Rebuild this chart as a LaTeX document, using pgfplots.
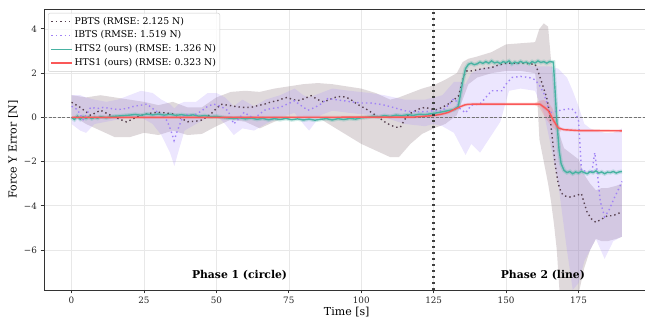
\documentclass[border=0pt]{standalone}
\usepackage{fontspec}
\setmainfont{DejaVu Serif}
\usepackage{pgfplots}
\pgfplotsset{compat=1.18}
\usepackage{pgfplotstable}
\usepgfplotslibrary{fillbetween}

\definecolor{pbts}{RGB}{88,66,80}
\definecolor{pbtsband}{RGB}{140,118,126}
\definecolor{ibts}{RGB}{160,130,245}
\definecolor{ibtsband}{RGB}{167,139,250}
\definecolor{hts2}{RGB}{72,178,162}
\definecolor{hts1}{RGB}{250,88,88}

\pgfplotstableread{
t m
0 0.68
3 0.45
6.6 0.09
10 0.32
13.5 0.09
16 -0.05
19 -0.21
21.5 -0.05
24 0.09
27 0.18
29.7 0.23
32.5 0.2
35.5 0.14
38 -0.05
40 -0.2
42.5 -0.18
44.6 -0.14
46.5 0.0
48 0.14
50 0.4
51.6 0.59
54 0.55
56 0.5
59 0.45
62 0.45
64 0.52
66.5 0.59
69 0.7
71 0.75
73 0.85
74.5 0.9
76 0.82
78 0.75
80.5 0.85
82.7 0.98
85 0.8
87 0.7
89 0.8
91 0.9
93 0.95
95 0.9
97 0.75
98.5 0.6
100 0.5
102 0.35
104 0.18
106 0.0
108 -0.2
110 -0.35
112 -0.45
113.5 -0.45
115 -0.1
116.5 0.15
118 0.25
120 0.38
122 0.45
124 0.38
126 0.35
128 0.45
130 0.6
131.5 0.75
133.5 0.95
134.5 1.4
135.5 1.9
136.5 2.1
138 2.1
140 2.15
142 2.2
145 2.25
147 2.35
150 2.45
153 2.45
156 2.45
158 2.42
160 2.4
161 2.1
162 1.7
163 1.3
164 0.9
165 0.2
166 -1.0
167 -2.2
168 -3.0
169 -3.4
170 -3.55
172 -3.6
174 -3.55
176 -3.45
177 -3.9
178 -4.3
179.5 -4.6
181 -4.75
183 -4.6
185 -4.45
187 -4.45
188.5 -4.35
190 -4.3
}\pbtsmean

\pgfplotstableread{
t lo hi
0 0.1 1.0
5 -0.3 0.9
10 -0.6 1.0
15 -0.9 0.9
20 -0.9 0.8
25 -0.7 0.7
30 -0.8 0.55
35 -0.6 0.7
40 -0.8 0.45
45 -0.75 0.45
50 -0.4 0.9
55 -0.1 1.15
60 -0.2 1.2
65 -0.5 1.15
70 -0.2 1.3
75 0.0 1.4
80 0.0 1.5
85 0.0 1.55
90 -0.4 1.5
95 -0.8 1.4
100 -1.2 1.3
105 -1.5 1.1
110 -1.8 0.8
113 -1.8 0.9
117 -1.2 1.1
121 -0.75 1.3
125 -0.5 1.45
129 -0.3 1.7
133 0.1 2.0
135 0.8 2.5
137 1.5 2.65
140 1.8 2.75
145 2.0 2.95
150 2.1 3.3
155 2.1 3.35
160 2.0 3.4
160.5 1.5 3.6
161.5 -1.0 4.0
163 -2.0 4.25
164.5 -3.0 4.1
165.5 -3.8 2.6
166.5 -4.8 1.5
167.5 -6.0 0.0
168.5 -8.0 -0.8
170 -8.0 -1.4
173 -8.0 -1.7
175 -8.0 -1.9
177 -6.8 -2.6
179 -6.0 -3.0
181 -5.5 -3.3
183 -5.6 -3.2
185 -5.6 -3.2
188 -5.5 -3.1
190 -5.4 -3.0
}\pbtsband

\pgfplotstableread{
t m
0 0.5
2 0.35
4 -0.1
5.5 0.2
6.6 0.45
9 0.4
11 0.45
13.5 0.4
16 0.35
19 0.4
21.5 0.5
24 0.55
26 0.6
28.5 0.35
31 0.1
33 -0.15
34.3 -0.6
35.4 -1.05
36.3 -0.7
37 -0.45
38 -0.1
39 0.14
41 0.1
43 0.14
45 0.3
47 0.5
49 0.6
51.5 0.5
54 0.3
55 0.0
56 -0.3
57.5 -0.1
59.6 0.23
61 0.1
63 -0.05
65 0.15
66.5 0.32
69 0.4
72 0.45
74.5 0.6
77 0.75
79 0.55
81.6 0.32
84 0.45
86 0.6
88.5 0.85
91 0.8
94 0.75
96.5 0.7
100 0.65
103 0.65
106 0.6
108 0.55
111 0.45
115 0.3
118 0.25
122 0.25
125 0.3
128 0.3
130 0.55
132 0.85
133 0.7
134 0.4
136 0.2
138 0.55
141 0.6
143 0.9
145 1.2
148.5 1.2
150 1.5
152 1.8
155 1.85
158 1.8
160 1.7
161.5 1.45
163 1.1
164 0.7
165 0.2
166.5 0.25
168 0.3
170 0.35
172.6 0.4
174 0.2
175 -0.15
175.6 -1.5
176 -2.4
178 -2.45
179.6 -2.5
180.6 -1.6
181.5 -2.5
182.5 -3.8
184 -4.5
185.5 -4.2
187.5 -3.6
189 -3.2
190 -2.9
}\ibtsmean

\pgfplotstableread{
t lo hi
0 -0.3 1.0
3 -0.6 1.0
5 -0.7 0.9
8 -0.3 0.8
12 -0.2 0.7
16 -0.1 0.8
20 0.0 1.0
24 0.0 1.2
28 -0.3 1.1
31 -0.8 0.8
34 -1.6 0.6
35.5 -2.2 0.4
37 -1.5 0.6
39 -0.6 0.7
43 -0.3 0.7
47 0.0 1.1
50 0.1 1.1
53 -0.3 0.9
56 -0.8 0.5
59 -0.5 0.8
63 -0.6 0.5
67 -0.3 0.8
72 0.0 1.0
77 0.2 1.3
80 -0.3 1.0
82 -0.6 0.9
86 0.1 1.1
90 0.3 1.3
96 0.2 1.2
103 0.1 1.1
108 0.0 1.0
115 -0.3 0.8
122 -0.4 0.8
125 -0.3 0.9
128 -0.4 1.0
132 -0.7 1.6
134 -1.2 1.6
136 -1.7 1.5
138 -1.2 2.0
141 -1.6 2.2
145 -0.8 2.3
148 -0.2 2.4
151 1.2 2.45
155 1.3 2.4
160 1.2 2.3
163 0.2 2.3
165 -1.0 2.3
168 -3.0 2.2
171 -6.0 1.8
173 -7.8 1.2
175 -7.5 0.5
177 -6.5 -0.3
179 -6.0 -0.5
181 -5.5 -0.6
184 -6.4 -0.7
187 -5.6 -0.7
190 -5.4 -0.5
}\ibtsband

\pgfplotstableread{
t m
0 0.0
1 -0.1
2 0.05
3 -0.08
4 0.03
5 -0.05
6 0.02
7 -0.06
8 0.0
9 -0.04
10 0.03
12 -0.02
14 0.04
16 0.06
18 0.08
20 0.1
22 0.13
24 0.09
26 0.15
28 0.11
30 0.15
32 0.1
34 0.14
36 0.09
38 0.12
40 0.08
42 0.11
44 0.05
46 0.08
48 0.03
50 0.05
52 0.0
54 -0.03
56 -0.06
58 -0.02
60 -0.07
62 -0.03
64 -0.09
66 -0.05
68 -0.11
70 -0.06
72 -0.1
74 -0.05
76 -0.11
78 -0.07
80 -0.12
82 -0.08
84 -0.13
86 -0.09
88 -0.06
90 -0.12
92 -0.06
94 -0.1
96 -0.05
98 -0.08
100 -0.02
102 0.0
104 0.05
106 0.02
108 0.08
110 0.04
112 0.1
114 0.07
116 0.12
118 0.09
120 0.14
122 0.12
124 0.16
126 0.2
128 0.25
130 0.3
132 0.35
133.5 0.5
135 1.6
136 2.2
137 2.4
138 2.45
139 2.38
140 2.42
141 2.5
142 2.44
143 2.52
144 2.45
145 2.55
146 2.46
147 2.5
148 2.43
149 2.52
150 2.47
151 2.55
152 2.42
153 2.5
154 2.45
155 2.53
156 2.46
157 2.5
158 2.42
159 2.52
160 2.46
161 2.55
162 2.48
163 2.52
164 2.45
165 2.52
166.3 2.5
167 1.0
167.6 -0.3
168.3 -1.5
169 -2.1
170 -2.4
171 -2.5
172 -2.45
173 -2.55
174 -2.47
175 -2.52
176 -2.44
177 -2.5
178 -2.55
179 -2.46
180 -2.5
181 -2.42
182 -2.52
183 -2.47
184 -2.55
185 -2.48
186 -2.5
187 -2.45
188 -2.52
189 -2.47
190 -2.45
}\htstwo

\pgfplotstableread{
t m
0 0.0
60 0.0
118 0.01
120 0.03
122 0.05
124 0.07
126 0.1
128 0.15
130 0.22
132 0.35
134 0.47
135.7 0.56
137 0.59
140 0.6
150 0.6
161.6 0.6
163 0.47
164.6 0.3
166.4 -0.15
168 -0.48
170 -0.56
175 -0.6
190 -0.61
}\htsone

\pgfplotstableread{
t lo hi
160 0.55 0.65
161.5 0.45 0.75
163 0.1 0.78
164.5 -0.2 0.7
166 -0.45 0.4
167.5 -0.6 -0.2
169 -0.65 -0.5
}\htsoneband

\begin{document}
\begin{tikzpicture}
\begin{axis}[name=ax, scale only axis, width=605.5pt, height=281pt,
  xmin=-9.5, xmax=199.5, ymin=-7.81, ymax=4.9,
  xtick={0,25,50,75,100,125,150,175},
  xticklabels={0,25,50,75,100,125,150,175},
  ytick={-6,-4,-2,0,2,4},
  yticklabels={−6,−4,−2,0,2,4},
  grid=major, major grid style={line width=0.6pt, draw=black!9},
  axis line style={draw=black!80, line width=0.8pt},
  tick style={draw=black!80, line width=0.8pt},
  tick align=outside, major tick length=3.5pt, tick pos=left,
  tick label style={font=\fontsize{8.8}{10}\selectfont, text=black!85},
  /pgf/number format/assume math mode=true,
  label style={font=\fontsize{11}{13}\selectfont},
  xlabel={Time [s]}, ylabel={Force Y Error [N]},
  xlabel style={yshift=3pt},
  ylabel style={yshift=-1pt},
  legend cell align=left,
  legend style={at={(0,1)}, anchor=north west, xshift=4pt, yshift=-4pt,
    draw=black!20, rounded corners=2pt, fill=white, fill opacity=0.8, text opacity=1,
    font=\fontsize{9.3}{11}\selectfont, row sep=1.8pt, inner sep=2.5pt,
    nodes={inner sep=1.5pt, text height=7pt, text depth=2pt}},
  legend image code/.code={\draw[#1] (0pt,0pt) -- (21pt,0pt);},
]
% bands
\addplot[name path=pu, draw=none, forget plot] table[x=t,y=hi]{\pbtsband};
\addplot[name path=pl, draw=none, forget plot] table[x=t,y=lo]{\pbtsband};
\addplot[fill=pbtsband, fill opacity=0.28, draw=none, forget plot] fill between[of=pu and pl];
\addplot[name path=iu, draw=none, forget plot] table[x=t,y=hi]{\ibtsband};
\addplot[name path=il, draw=none, forget plot] table[x=t,y=lo]{\ibtsband};
\addplot[fill=ibtsband, fill opacity=0.22, draw=none, forget plot] fill between[of=iu and il];
\addplot[name path=hu, draw=none, forget plot] table[x=t,y=hi]{\htsoneband};
\addplot[name path=hl, draw=none, forget plot] table[x=t,y=lo]{\htsoneband};
\addplot[fill=hts1, fill opacity=0.2, draw=none, forget plot] fill between[of=hu and hl];
\addplot[hts2, line width=4pt, opacity=0.25, forget plot] table[x=t,y=m]{\htstwo};
\addplot[hts1, line width=3pt, opacity=0.2, forget plot] table[x=t,y=m]{\htsone};
% reference lines
\addplot[black!55, line width=0.7pt, dash pattern=on 3pt off 1.5pt, forget plot] coordinates {(-9.5,0) (199.5,0)};
% means
\addplot[pbts, line width=1.4pt, dash pattern=on 1.4pt off 3pt] table[x=t,y=m]{\pbtsmean};
\addlegendentry{PBTS (RMSE: 2.125 N)}
\addplot[ibts, line width=1.4pt, dash pattern=on 1.4pt off 3pt] table[x=t,y=m]{\ibtsmean};
\addlegendentry{IBTS (RMSE: 1.519 N)}
\addplot[hts2, line width=1.4pt] table[x=t,y=m]{\htstwo};
\addlegendentry{HTS2 (ours) (RMSE: 1.326 N)}
\addplot[hts1, line width=1.4pt] table[x=t,y=m]{\htsone};
\addlegendentry{HTS1 (ours) (RMSE: 0.323 N)}
\addplot[black!75, line width=2.4pt, dash pattern=on 2.4pt off 3.6pt, forget plot] coordinates {(125,-7.81) (125,4.9)};
\node[font=\bfseries\fontsize{10.8}{13}\selectfont] at (axis cs:58,-7.13) {Phase 1 (circle)};
\node[font=\bfseries\fontsize{10.8}{13}\selectfont] at (axis cs:162.7,-7.13) {Phase 2 (line)};
\end{axis}
\pgfresetboundingbox
\path ([shift={(-44pt,-30pt)}]ax.south west) rectangle ([shift={(-4.5pt,9pt)}]ax.north east);
\end{tikzpicture}
\end{document}
